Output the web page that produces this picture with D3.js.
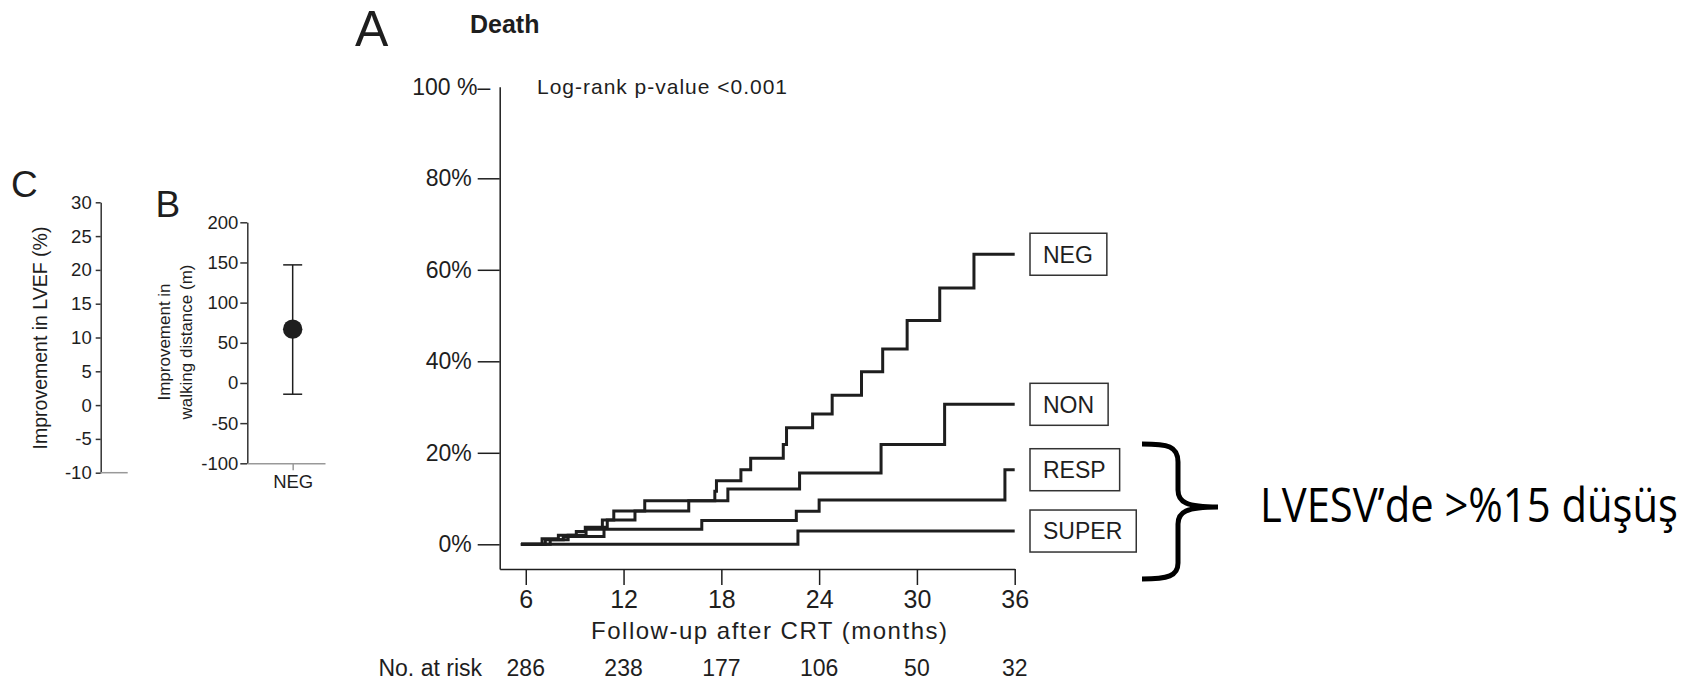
<!DOCTYPE html>
<html>
<head>
<meta charset="utf-8">
<script src="https://cdn.jsdelivr.net/npm/d3@7"></script>
<style>
  html, body { margin: 0; padding: 0; background: #fff; }
  svg { display: block; font-family: "Liberation Sans", Arial, sans-serif; }
</style>
</head>
<body>
<svg id="chart" width="1691" height="683"></svg>
<script>
// --- panel A: cumulative death, [month, %] at each step
const groups = ['NEG', 'NON', 'RESP', 'SUPER'];
const negSteps = [[5.7,0],[7.0,1.2],[8.0,2.0],[9.1,2.8],[9.65,3.7],[10.7,5.3],[11.4,7.3],[13.3,9.5],[17.6,11.6],[17.7,13.9],[19.2,16.3],[19.8,18.8],[21.8,21.8],[22.0,25.5],[23.6,28.5],[24.8,32.6],[26.6,37.7],[27.9,42.7],[29.4,48.9],[31.4,56.0],[33.5,63.4]];
const nonSteps = [[5.7,0],[7.2,1.0],[8.3,1.7],[10.8,3.7],[11.0,5.3],[12.7,7.3],[16.0,9.5],[18.4,12.1],[22.8,15.6],[27.8,21.8],[31.7,30.6]];
const respSteps = [[5.7,0],[7.5,1.0],[8.6,2.0],[9.7,3.3],[16.8,5.2],[22.6,7.2],[24.0,9.7],[35.4,16.3]];
const superSteps = [[5.7,0],[22.7,2.9]];
const followEnd = 36;
const monthTicks = [6, 12, 18, 24, 30, 36];
const atRisk = [286, 238, 177, 106, 50, 32];
const pctTicks = [0, 20, 40, 60, 80, 100];

// --- panel B: walking distance
const walkGroup = ['NEG'];
const walkMean = [67];
const walkLow = [-14];
const walkHigh = [147];
const walkTicks = [-100, -50, 0, 50, 100, 150, 200];

// --- panel C: LVEF (axis only)
const lvefTicks = [-10, -5, 0, 5, 10, 15, 20, 25, 30];

const ink = '#1e1e1e';
const svg = d3.select('#chart');
svg.append('rect').attr('width', 1691).attr('height', 683).attr('fill', '#fff');

function styleAxis(g, size, color) {
  g.selectAll('path, line').attr('stroke', color).attr('stroke-width', 1.5);
  g.selectAll('text').attr('fill', ink).attr('font-size', size).attr('font-family', '"Liberation Sans", Arial, sans-serif');
}

// ================= panel A =================
const x = d3.scaleLinear().domain([4.4, 36]).range([499.7, 1014.7]);
const y = d3.scaleLinear().domain([-5.4, 100]).range([569, 86.8]);

svg.append('text').attr('x', 355).attr('y', 46).attr('font-size', 50).attr('fill', ink).text('A');
svg.append('text').attr('x', 470).attr('y', 33).attr('font-size', 25).attr('font-weight', 'bold').attr('fill', ink).text('Death');
svg.append('text').attr('x', 537).attr('y', 94).attr('font-size', 21).attr('fill', ink)
  .attr('textLength', 250).text('Log-rank p-value <0.001');

const gx = svg.append('g').attr('transform', `translate(0,${y(-5.4)})`)
  .call(d3.axisBottom(x).tickValues(monthTicks).tickSize(16).tickSizeOuter(0).tickPadding(5));
styleAxis(gx, 25, ink);

const gy = svg.append('g').attr('transform', `translate(${x(4.4)},0)`)
  .call(d3.axisLeft(y).tickValues(pctTicks).tickSize(22).tickSizeOuter(0).tickPadding(6)
    .tickFormat(d => d === 100 ? '100 %–' : d + '%'));
styleAxis(gy, 23, ink);
gy.selectAll('.tick').filter(d => d === 100).select('line').remove();
gy.selectAll('.tick').filter(d => d === 100).select('text').attr('x', -9.5);

svg.append('text').attr('x', 769).attr('y', 639).attr('text-anchor', 'middle')
  .attr('font-size', 24).attr('fill', ink).attr('textLength', 356)
  .text('Follow-up after CRT (months)');

svg.append('text').attr('x', 482).attr('y', 676).attr('text-anchor', 'end')
  .attr('font-size', 23).attr('fill', ink).text('No. at risk');
svg.append('g').selectAll('text').data(atRisk).join('text')
  .attr('x', (d, i) => x(monthTicks[i])).attr('y', 676).attr('text-anchor', 'middle')
  .attr('font-size', 23).attr('fill', ink).text(d => d);

const series = [negSteps, nonSteps, respSteps, superSteps];
const stepLine = d3.line().x(d => x(d[0])).y(d => y(d[1])).curve(d3.curveStepAfter);
series.forEach(steps => {
  const pts = steps.concat([[followEnd, steps[steps.length - 1][1]]]);
  svg.append('path').attr('d', stepLine(pts)).attr('fill', 'none')
    .attr('stroke', ink).attr('stroke-width', 3).attr('stroke-linejoin', 'miter');
});

// group labels in boxes, next to each curve's end
series.forEach((steps, i) => {
  const cy = y(steps[steps.length - 1][1]);
  const g = svg.append('g');
  const t = g.append('text').attr('x', 1030 + 13).attr('y', cy).attr('dy', '0.36em')
    .attr('font-size', 23).attr('fill', ink).text(groups[i]);
  const w = t.node().getComputedTextLength();
  g.insert('rect', 'text').attr('x', 1030).attr('y', cy - 21).attr('width', w + 27).attr('height', 42)
    .attr('fill', '#fff').attr('stroke', '#333').attr('stroke-width', 1.5);
});

// brace grouping RESP + SUPER
svg.append('path')
  .attr('d', 'M1142,444 C1168,444 1178,446 1178,462 L1178,490 C1178,502 1186,507 1218,507 C1186,507 1178,512 1178,524 L1178,563 C1178,576 1168,579 1142,579')
  .attr('fill', 'none').attr('stroke', '#000').attr('stroke-width', 5);
const note = svg.append('text')
  .attr('font-family', '"Open Sans", "Noto Sans", sans-serif').attr('font-size', 47)
  .attr('fill', '#000').text('LVESV’de >%15 düşüş');
const noteW = note.node().getComputedTextLength();
note.attr('transform', `translate(1260,522) scale(${418 / noteW},1)`);

// ================= panel C =================
const yc = d3.scaleLinear().domain([-10, 30]).range([472.7, 202.3]);
svg.append('text').attr('x', 11).attr('y', 196.7).attr('font-size', 37).attr('fill', ink).text('C');
const gc = svg.append('g').attr('transform', 'translate(100.7,0)')
  .call(d3.axisLeft(yc).tickValues(lvefTicks).tickSize(5).tickSizeOuter(0).tickPadding(4).tickFormat(d => String(d)));
styleAxis(gc, 18.5, '#333');
svg.append('line').attr('x1', 100.7).attr('x2', 127.7).attr('y1', yc(-10)).attr('y2', yc(-10))
  .attr('stroke', '#999').attr('stroke-width', 1.5);
svg.append('text').attr('transform', `translate(47,338) rotate(-90)`).attr('text-anchor', 'middle')
  .attr('font-size', 19.5).attr('fill', ink).text('Improvement in LVEF (%)');

// ================= panel B =================
const yb = d3.scaleLinear().domain([-100, 200]).range([463.3, 222.3]);
const xb = d3.scalePoint().domain(walkGroup).range([247.3, 325]).align(0.584);
svg.append('text').attr('x', 155.5).attr('y', 217.3).attr('font-size', 37).attr('fill', ink).text('B');
const gb = svg.append('g').attr('transform', 'translate(247.3,0)')
  .call(d3.axisLeft(yb).tickValues(walkTicks).tickSize(7).tickSizeOuter(0).tickPadding(2).tickFormat(d => String(d)));
styleAxis(gb, 18.5, '#333');
const gbx = svg.append('g').attr('transform', `translate(0,${yb(-100)})`)
  .call(d3.axisBottom(xb).tickSize(7).tickSizeOuter(0).tickPadding(5));
styleAxis(gbx, 18.5, '#999');

svg.append('text').attr('transform', 'translate(169.7,342) rotate(-90)').attr('text-anchor', 'middle')
  .attr('font-size', 17).attr('fill', ink).text('Improvement in');
svg.append('text').attr('transform', 'translate(192.4,342) rotate(-90)').attr('text-anchor', 'middle')
  .attr('font-size', 17).attr('fill', ink).text('walking distance (m)');

const bars = svg.append('g');
walkGroup.forEach((g, i) => {
  const cx = xb(g);
  bars.append('line').attr('x1', cx).attr('x2', cx).attr('y1', yb(walkHigh[i])).attr('y2', yb(walkLow[i]))
    .attr('stroke', ink).attr('stroke-width', 1.5);
  [walkHigh[i], walkLow[i]].forEach(v => {
    bars.append('line').attr('x1', cx - 9.5).attr('x2', cx + 9.5).attr('y1', yb(v)).attr('y2', yb(v))
      .attr('stroke', ink).attr('stroke-width', 1.5);
  });
  bars.append('circle').attr('cx', cx).attr('cy', yb(walkMean[i])).attr('r', 9.7).attr('fill', ink);
});
</script>
</body>
</html>
